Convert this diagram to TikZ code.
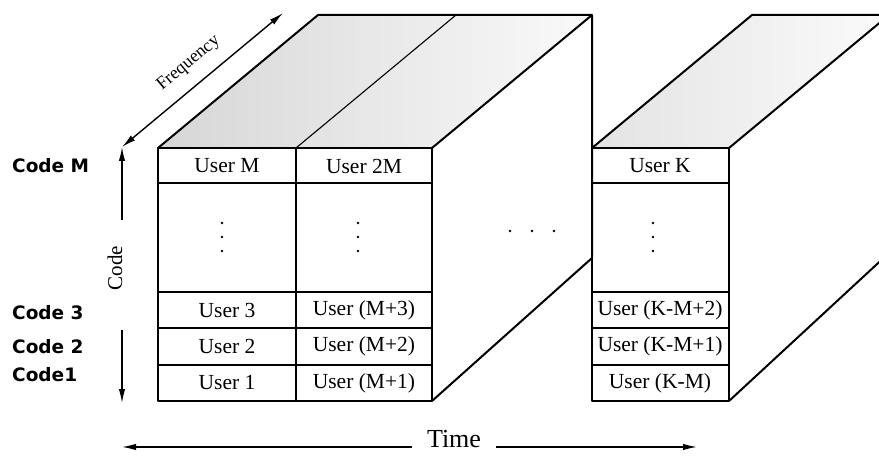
\documentclass[tikz,border=0pt]{standalone}
\usepackage{fontspec}
\setmainfont{Liberation Serif}
\newfontfamily\codefont{DejaVu Sans}
\usetikzlibrary{arrows.meta, positioning, calc}

\tikzset{
  userlbl/.style={font=\fontsize{21.5}{21.5}\selectfont, inner sep=0pt},
  codelbl/.style={font=\codefont\bfseries\fontsize{18.5}{18.5}\selectfont, anchor=west, inner sep=0pt},
  boxline/.style={line width=2pt, line join=round},
  cellline/.style={line width=1.1pt},
  axis/.style={line width=1.4pt, -{Latex[length=14pt,width=6.5pt]}},
}

\begin{document}
\begin{tikzpicture}[x=1pt, y=-1pt]
    \useasboundingbox (0,0) rectangle (879,457);
    \clip (0,0) rectangle (879,457);

    % Box 1 (Users 1 .. 2M)
    \shade[left color=gray!32, right color=gray!4] (158,148) -- (318,15) -- (592,15) -- (432,148) -- cycle;
    \draw[boxline] (158,148) -- (318,15) -- (592,15) -- (592,258) -- (432,401);
    \draw[boxline] (432,148) -- (592,15);
    \draw[cellline] (296,148) -- (456,15);
    \draw[boxline] (158,148) rectangle (432,401);
    \foreach \y in {183,292,328,365} \draw[boxline] (158,\y) -- (432,\y);
    \draw[cellline] (296,148) -- (296,401);

    % Box 2 (Users K-M .. K)
    \shade[left color=gray!22, right color=gray!3] (592,148) -- (752,15) -- (889,15) -- (729,148) -- cycle;
    \draw[boxline] (592,148) -- (752,15) -- (889,15) -- (889,253) -- (729,401);
    \draw[boxline] (729,148) -- (889,15);
    \draw[boxline] (592,148) rectangle (729,401);
    \foreach \y in {183,292,328,365} \draw[boxline] (592,\y) -- (729,\y);

    % Dots
    \foreach \x in {222,358,653} \foreach \y in {223,237,251} \fill (\x,\y) circle (1.4pt);
    \foreach \x in {510,532,554} \fill (\x,231) circle (1.4pt);

    % Users
    \node[userlbl] (uM) at (227,166) {User M};
    \node[userlbl] (u2M) at (364,166) {User 2M};
    \node[userlbl] (uK) at (660,166) {User K};
    \node[userlbl] (u3) at (227,310) {User 3};
    \node[userlbl] (u2) at (227,346.5) {User 2};
    \node[userlbl] (u1) at (227,383) {User 1};
    \node[userlbl] (uM3) at (364,310) {User (M+3)};
    \node[userlbl] (uM2) at (364,346.5) {User (M+2)};
    \node[userlbl] (uM1) at (364,383) {User (M+1)};
    \node[userlbl] (uKM2) at (660,310) {User (K-M+2)};
    \node[userlbl] (uKM1) at (660,346.5) {User (K-M+1)};
    \node[userlbl] (uKM) at (660,383) {User (K-M)};

    % Code labels
    \node[codelbl] (codeM) at (12,166) {Code M};
    \node[codelbl] (code3) at (12,313) {Code 3};
    \node[codelbl] (code2) at (12,347) {Code 2};
    \node[codelbl] (code1) at (12,375) {Code1};

    % Code axis
    \node[font=\fontsize{21}{21}\selectfont, rotate=90, inner sep=0pt] (code) at (115,268) {Code};
    \coordinate (cUp) at (122,147);
    \coordinate (cUpS) at (122,220);
    \coordinate (cDnS) at (122,330);
    \coordinate (cDn) at (122,403);
    \draw[axis] (cUpS) -- (cUp);
    \draw[axis] (cDnS) -- (cDn);

    % Frequency axis
    \coordinate (fA) at (122,147);
    \coordinate (fB) at (283,13);
    \draw[axis, {Latex[length=14pt,width=6.5pt]}-{Latex[length=14pt,width=6.5pt]}] (fA) -- (fB)
        node[midway, sloped, above=13pt, inner sep=0pt, font=\fontsize{18}{18}\selectfont] (freq) {Frequency};

    % Time axis
    \node[font=\fontsize{26}{26}\selectfont, anchor=base, inner xsep=15pt, inner ysep=0pt] (time) at (454,447) {Time};
    \coordinate (tL) at (122,447);
    \coordinate (tR) at (697,447);
    \draw[axis] (time.base west) -- (tL);
    \draw[axis] (time.base east) -- (tR);

\end{tikzpicture}
\end{document}
